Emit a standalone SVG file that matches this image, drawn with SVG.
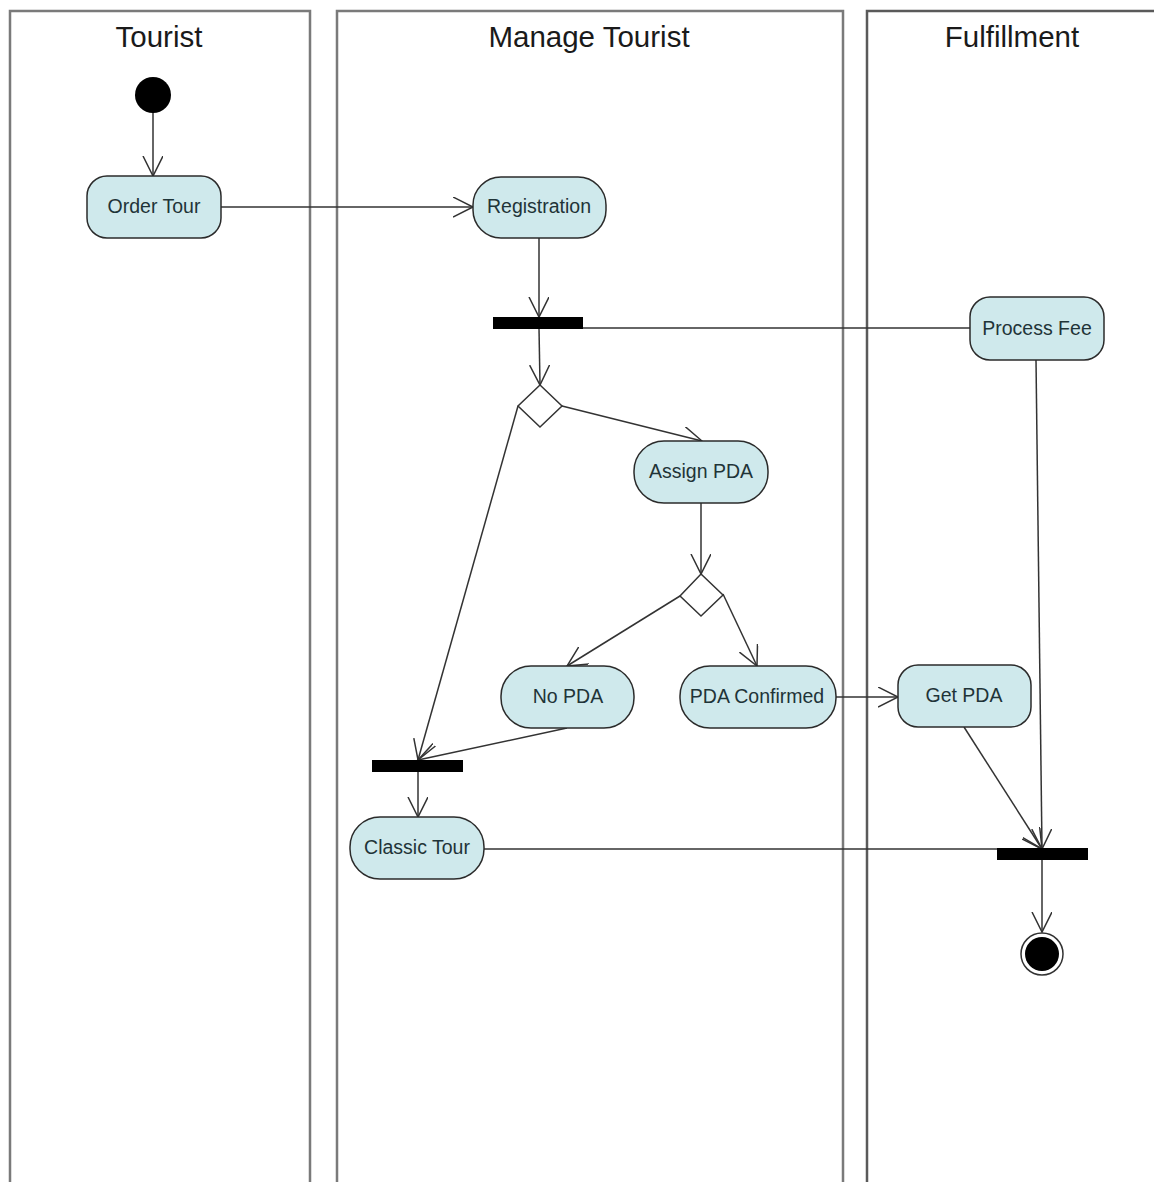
<svg xmlns="http://www.w3.org/2000/svg" width="1154" height="1182" viewBox="0 0 1154 1182">
<defs>
<marker id="arr" markerUnits="userSpaceOnUse" markerWidth="24" markerHeight="24" refX="20" refY="10" orient="auto">
<path d="M0,0 L20,10 L0,20" fill="none" stroke="#333" stroke-width="1.5"/>
</marker>
</defs>
<style>
.lane{fill:none;stroke:#7a7a7a;stroke-width:2.5}
.title{font-family:"Liberation Sans",Arial,sans-serif;font-size:29.5px;fill:#1a1a1a;text-anchor:middle}
.act{fill:#cfe9ec;stroke:#2b2b2b;stroke-width:1.5}
.lbl{font-family:"Liberation Sans",Arial,sans-serif;font-size:19.5px;fill:#1f3438;text-anchor:middle;dominant-baseline:central}
.bar{fill:#000}
.dec{fill:#fff;stroke:#333;stroke-width:1.5}
.c{fill:none;stroke:#333;stroke-width:1.5}
.ca{fill:none;stroke:#333;stroke-width:1.5;marker-end:url(#arr)}
</style>
<rect width="1154" height="1182" fill="#fff"/>
<g id="lanes">
<path class="lane" d="M10,1182 V11 H310 V1182"/>
<path class="lane" d="M337,1182 V11 H843 V1182"/>
<path class="lane" d="M867,1182 V11 H1154" style="stroke:#5a5a5a"/>
<text class="title" x="159" y="47">Tourist</text>
<text class="title" x="589" y="47">Manage Tourist</text>
<text class="title" x="1012" y="47">Fulfillment</text>
</g>
<g id="connectors">
<path class="ca" d="M153,112 L153,176"/>
<path class="ca" d="M221,207 L473,207"/>
<path class="ca" d="M539,238 L539,317"/>
<path class="c" d="M583,328 L970,328"/>
<path class="ca" d="M539,328 L540,385"/>
<path class="ca" d="M562,406 L702,441"/>
<path class="ca" d="M518,406 L418,760"/>
<path class="ca" d="M701,503 L701,574"/>
<path class="ca" d="M680,596 L567,666"/>
<path class="ca" d="M723,594 L757,666"/>
<path class="ca" d="M567,728 L418,760"/>
<path class="ca" d="M836,697 L898,697"/>
<path class="ca" d="M418,771 L418,817"/>
<path class="ca" d="M484,849 L1042,849"/>
<path class="ca" d="M964,727 L1042,849"/>
<path class="ca" d="M1036,360 L1042,849"/>
<path class="ca" d="M1042,860 L1042,932"/>
</g>
<g id="initial"><circle cx="153" cy="95" r="18" fill="#000"/></g>
<g id="order-tour"><rect class="act" x="87" y="176" width="134" height="62" rx="20"/><text class="lbl" x="154" y="206">Order Tour</text></g>
<g id="registration"><rect class="act" x="473" y="177" width="133" height="61" rx="28"/><text class="lbl" x="539" y="206">Registration</text></g>
<g id="fork1"><rect class="bar" x="493" y="317" width="90" height="12"/></g>
<g id="process-fee"><rect class="act" x="970" y="297" width="134" height="63" rx="20"/><text class="lbl" x="1037" y="328">Process Fee</text></g>
<g id="decision1"><path class="dec" d="M540,385 L562,406 L540,427 L518,406 Z"/></g>
<g id="assign-pda"><rect class="act" x="634" y="441" width="134" height="62" rx="30"/><text class="lbl" x="701" y="471">Assign PDA</text></g>
<g id="decision2"><path class="dec" d="M701,574 L723,595 L701,616 L680,596 Z"/></g>
<g id="no-pda"><rect class="act" x="501" y="666" width="133" height="62" rx="30"/><text class="lbl" x="568" y="696">No PDA</text></g>
<g id="pda-confirmed"><rect class="act" x="680" y="666" width="156" height="62" rx="30"/><text class="lbl" x="757" y="696">PDA Confirmed</text></g>
<g id="get-pda"><rect class="act" x="898" y="665" width="133" height="62" rx="20"/><text class="lbl" x="964" y="695">Get PDA</text></g>
<g id="fork2"><rect class="bar" x="372" y="760" width="91" height="12"/></g>
<g id="classic-tour"><rect class="act" x="350" y="817" width="134" height="62" rx="30"/><text class="lbl" x="417" y="847">Classic Tour</text></g>
<g id="join3"><rect class="bar" x="997" y="848" width="91" height="12"/></g>
<g id="final"><circle cx="1042" cy="954" r="21" fill="#fff" stroke="#333" stroke-width="1.5"/><circle cx="1042" cy="954" r="17" fill="#000"/></g>
</svg>
